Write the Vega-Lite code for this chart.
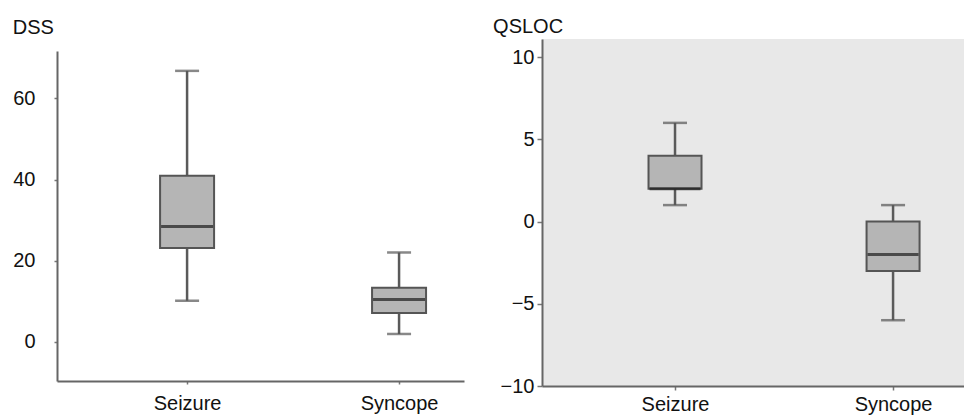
{
  "$schema": "https://vega.github.io/schema/vega-lite/v6.json",
  "padding": {"left": 12, "top": 17, "right": 0, "bottom": 0},
  "autosize": {"type": "pad"},
  "background": "white",
  "spacing": 29,
  "center": true,
  "config": {
    "font": "Liberation Sans, Arial, sans-serif",
    "view": {"stroke": null},
    "title": {"fontSize": 20, "fontWeight": "normal", "color": "#111", "anchor": "start", "frame": "bounds", "baseline": "alphabetic"},
    "axis": {
      "grid": false,
      "labelFontSize": 20,
      "labelColor": "#111",
      "domainColor": "#666",
      "domainWidth": 2,
      "tickColor": "#777",
      "tickWidth": 1.5
    }
  },
  "datasets": {
    "dss": [
      {"group": "Seizure", "min": 10.1, "q1": 23.1, "median": 28.4, "q3": 40.9, "max": 66.8},
      {"group": "Syncope", "min": 1.9, "q1": 7.1, "median": 10.4, "q3": 13.3, "max": 22.0}
    ],
    "qsloc": [
      {"group": "Seizure", "min": 1.0, "q1": 2.0, "median": 2.0, "q3": 4.0, "max": 6.0},
      {"group": "Syncope", "min": -6.0, "q1": -3.0, "median": -2.0, "q3": 0.0, "max": 1.0}
    ]
  },
  "hconcat": [
    {
      "width": 407,
      "height": 330,
      "title": {"text": "DSS", "offset": 13},
      "data": {"name": "dss"},
      "encoding": {
        "x": {
          "field": "group", "type": "nominal", "title": null,
          "scale": {"type": "point", "padding": 0.46, "align": 0.667},
          "axis": {"labelAngle": 0, "tickSize": 3, "labelPadding": 9}
        }
      },
      "layer": [
        {
          "mark": {"type": "rule", "color": "#5a5a5a", "strokeWidth": 2.5},
          "encoding": {
            "y": {
              "field": "min", "type": "quantitative", "title": null,
              "scale": {"domain": [-9.7, 71.7], "nice": false, "zero": false},
              "axis": {"values": [0, 20, 40, 60], "tickSize": 3, "labelPadding": 19}
            },
            "y2": {"field": "max"}
          }
        },
        {
          "mark": {"type": "bar", "size": 54, "fill": "#b5b5b5", "stroke": "#555555", "strokeWidth": 2},
          "encoding": {"y": {"field": "q1", "type": "quantitative"}, "y2": {"field": "q3"}}
        },
        {
          "mark": {"type": "tick", "size": 52, "thickness": 3, "color": "#1c1c1c"},
          "encoding": {"y": {"field": "median", "type": "quantitative"}}
        },
        {
          "mark": {"type": "tick", "size": 24, "thickness": 2.5, "color": "#555555"},
          "encoding": {"y": {"field": "min", "type": "quantitative"}}
        },
        {
          "mark": {"type": "tick", "size": 24, "thickness": 2.5, "color": "#555555"},
          "encoding": {"y": {"field": "max", "type": "quantitative"}}
        }
      ]
    },
    {
      "width": 423,
      "height": 347,
      "title": {"text": "QSLOC", "offset": 2, "dx": -7},
      "view": {"fill": "#e8e8e8", "stroke": null},
      "data": {"name": "qsloc"},
      "encoding": {
        "x": {
          "field": "group", "type": "nominal", "title": " ",
          "scale": {"type": "point", "padding": 0.47, "align": 0.649},
          "axis": {"labelAngle": 0, "tickSize": 4, "labelPadding": 4, "titleFontSize": 1, "titlePadding": 10}
        }
      },
      "layer": [
        {
          "mark": {"type": "rule", "color": "#5a5a5a", "strokeWidth": 2.5},
          "encoding": {
            "y": {
              "field": "min", "type": "quantitative", "title": null,
              "scale": {"domain": [-10, 11.1], "nice": false, "zero": false},
              "axis": {"values": [-10, -5, 0, 5, 10], "tickSize": 5, "labelPadding": 3}
            },
            "y2": {"field": "max"}
          }
        },
        {
          "mark": {"type": "bar", "size": 53, "fill": "#b5b5b5", "stroke": "#555555", "strokeWidth": 2},
          "encoding": {"y": {"field": "q1", "type": "quantitative"}, "y2": {"field": "q3"}}
        },
        {
          "mark": {"type": "tick", "size": 51, "thickness": 3, "color": "#1c1c1c"},
          "encoding": {"y": {"field": "median", "type": "quantitative"}}
        },
        {
          "mark": {"type": "tick", "size": 24, "thickness": 2.5, "color": "#555555"},
          "encoding": {"y": {"field": "min", "type": "quantitative"}}
        },
        {
          "mark": {"type": "tick", "size": 24, "thickness": 2.5, "color": "#555555"},
          "encoding": {"y": {"field": "max", "type": "quantitative"}}
        }
      ]
    }
  ]
}
